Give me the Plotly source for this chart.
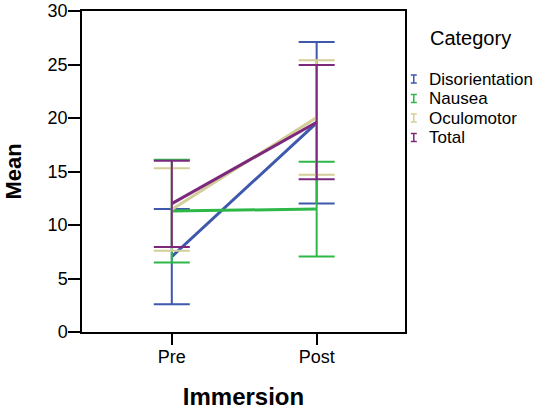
import plotly.graph_objects as go

# ---- data ----
immersion = ["Pre", "Post"]
categories = ["Disorientation", "Nausea", "Oculomotor", "Total"]
mean_disorientation = [7.05, 19.55]
mean_nausea = [11.3, 11.5]
mean_oculomotor = [11.45, 20.05]
mean_total = [12.0, 19.6]
upper_disorientation = [11.5, 27.1]
lower_disorientation = [2.6, 12.0]
upper_nausea = [16.1, 15.9]
lower_nausea = [6.5, 7.05]
upper_oculomotor = [15.3, 25.4]
lower_oculomotor = [7.6, 14.7]
upper_total = [16.0, 24.96]
lower_total = [7.95, 14.28]
y_ticks = [0, 5, 10, 15, 20, 25, 30]

colors = ["#3E58AC", "#2EB848", "#D3CE97", "#7C287D"]
means = [mean_disorientation, mean_nausea, mean_oculomotor, mean_total]
uppers = [upper_disorientation, upper_nausea, upper_oculomotor, upper_total]
lowers = [lower_disorientation, lower_nausea, lower_oculomotor, lower_total]

FONT = "Liberation Sans, Arial, sans-serif"
W, H = 542, 410
L, R, T, B = 82, 137, 11, 78
PW, PH = W - L - R, H - T - B


def px(xpix):
    return (xpix - L) / PW


def py(ypix):
    return (H - B - ypix) / PH


fig = go.Figure()

for name, m, up, lo, c in zip(categories, means, uppers, lowers, colors):
    fig.add_trace(go.Scatter(
        x=immersion, y=m, mode="lines", name=name, showlegend=False,
        line=dict(color=c, width=3),
        error_y=dict(type="data", symmetric=False,
                     array=[u - v for u, v in zip(up, m)],
                     arrayminus=[v - l for v, l in zip(m, lo)],
                     color=c, thickness=2, width=18),
        hoverinfo="skip",
    ))

# legend (title, symbols, labels)
fig.add_annotation(text="Category", xref="paper", yref="paper",
                   x=px(470), y=py(38), xanchor="center", yanchor="middle",
                   showarrow=False,
                   font=dict(family=FONT, size=20, color="black"))
legend_y = [79, 98.5, 118, 137.5]
for name, c, yc in zip(categories, colors, legend_y):
    fig.add_annotation(text=name, xref="paper", yref="paper",
                       x=px(427), y=py(yc), xanchor="left", yanchor="middle",
                       showarrow=False,
                       font=dict(family=FONT, size=17, color="black"))
    xc = 413.8
    for (x0, y0, x1, y1) in [(xc, yc - 4, xc, yc + 4),
                             (xc - 3, yc - 4, xc + 3, yc - 4),
                             (xc - 3, yc + 4, xc + 3, yc + 4)]:
        fig.add_shape(type="line", xref="paper", yref="paper",
                      x0=px(x0), y0=py(y0), x1=px(x1), y1=py(y1),
                      line=dict(color=c, width=1.5))

fig.update_layout(
    width=W, height=H,
    margin=dict(l=L, r=R, t=T, b=B),
    paper_bgcolor="white", plot_bgcolor="white",
    font=dict(family=FONT, color="black"),
    showlegend=False,
    xaxis=dict(type="category", range=[-0.62, 1.61], showgrid=False,
               automargin=False,
               showline=True, linecolor="black", linewidth=1.5, mirror=True,
               ticks="outside", ticklen=11, tickwidth=2, tickcolor="black",
               ticklabelstandoff=-3,
               tickfont=dict(family=FONT, size=18),
               title=dict(text="<b>Immersion</b>", standoff=22,
                          font=dict(family=FONT, size=24))),
    yaxis=dict(range=[0, 30], tickvals=y_ticks, showgrid=False, zeroline=False,
               automargin=False,
               showline=True, linecolor="black", linewidth=1.5, mirror=True,
               ticks="outside", ticklen=12, tickwidth=2, tickcolor="black",
               ticklabelstandoff=-3,
               tickfont=dict(family=FONT, size=18),
               title=dict(text="<b>Mean</b>", standoff=20,
                          font=dict(family=FONT, size=22))),
)

fig.write_html("out.html", config={"displayModeBar": False},
               post_script="document.body.style.margin='0';")
